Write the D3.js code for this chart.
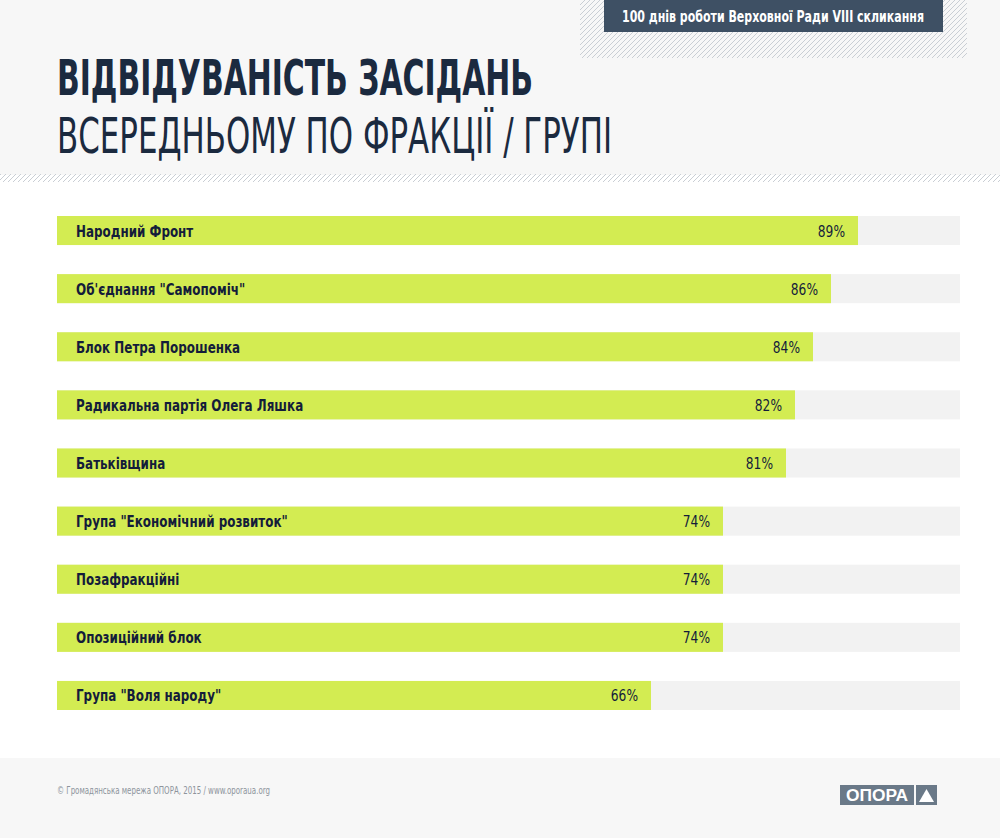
<!DOCTYPE html>
<html>
<head>
<meta charset="utf-8">
<script src="https://cdn.jsdelivr.net/npm/d3@7"></script>
<style>
  body { margin: 0; background: #fff; }
  svg { display: block; }
</style>
</head>
<body>
<svg id="chart" width="1000" height="838"></svg>
<script>
// data
var groups = ["Народний Фронт", "Об'єднання \"Самопоміч\"", "Блок Петра Порошенка",
    "Радикальна партія Олега Ляшка", "Батьківщина", "Група \"Економічний розвиток\"",
    "Позафракційні", "Опозиційний блок", "Група \"Воля народу\""];
var attendance = [89, 86, 84, 82, 81, 74, 74, 74, 66];
var domainMax = [0, 100];

var svg = d3.select("#chart"),
    width = +svg.attr("width"),
    height = +svg.attr("height");

var narrow = "'Liberation Sans Narrow', 'DejaVu Sans Condensed', sans-serif";

// hatch pattern
var defs = svg.append("defs");
var pat = defs.append("pattern")
    .attr("id", "hatch")
    .attr("patternUnits", "userSpaceOnUse")
    .attr("width", 5).attr("height", 5);
pat.append("path")
    .attr("d", "M-1,6 L6,-1 M-1,1 L1,-1 M4,6 L6,4")
    .attr("stroke", "#c9ced4")
    .attr("stroke-width", 1);

// header background
svg.append("rect").attr("x", 0).attr("y", 0).attr("width", width).attr("height", 175).attr("fill", "#f7f7f7");
svg.append("rect").attr("x", 0).attr("y", 174).attr("width", width).attr("height", 8).attr("fill", "url(#hatch)");

// badge top right
svg.append("rect").attr("x", 580).attr("y", 0).attr("width", 387).attr("height", 58).attr("fill", "url(#hatch)");
svg.append("rect").attr("x", 604).attr("y", 0).attr("width", 339).attr("height", 32).attr("fill", "#3e5064");
svg.append("text")
    .attr("x", 622).attr("y", 22)
    .attr("textLength", 302).attr("lengthAdjust", "spacingAndGlyphs")
    .style("font-family", narrow).style("font-weight", "bold").style("font-size", "15px")
    .attr("fill", "#fff")
    .text("100 днів роботи Верховної Ради VIII скликання");

// title
svg.append("text")
    .attr("x", 57).attr("y", 95)
    .attr("textLength", 476).attr("lengthAdjust", "spacingAndGlyphs")
    .style("font-family", narrow).style("font-weight", "bold").style("font-size", "50px")
    .attr("fill", "#1b2a3f")
    .text("ВІДВІДУВАНІСТЬ ЗАСІДАНЬ");
svg.append("text")
    .attr("x", 57).attr("y", 153)
    .attr("textLength", 555).attr("lengthAdjust", "spacingAndGlyphs")
    .style("font-family", narrow).style("font-weight", "normal").style("font-size", "50px")
    .attr("fill", "#1b2a3f")
    .text("ВСЕРЕДНЬОМУ ПО ФРАКЦІЇ / ГРУПІ");

// scales
var x = d3.scaleLinear().domain(domainMax).range([57, 957]);
var y = d3.scaleBand().domain(groups).range([216, 710]).paddingInner(0.5).paddingOuter(0);

var rows = svg.append("g").selectAll(".row")
    .data(groups)
    .enter().append("g")
    .attr("class", "row")
    .attr("transform", function (d) { return "translate(0," + y(d) + ")"; });

rows.append("rect")
    .attr("x", x(0))
    .attr("width", 960 - x(0))
    .attr("height", y.bandwidth())
    .attr("fill", "#f2f2f2");

rows.append("rect")
    .attr("x", x(0))
    .attr("width", function (d, i) { return x(attendance[i]) - x(0); })
    .attr("height", y.bandwidth())
    .attr("fill", "#d3ec52");

rows.append("text")
    .attr("transform", "translate(76," + (y.bandwidth() / 2 + 6) + ") scale(0.83,1)")
    .style("font-family", narrow).style("font-weight", "bold").style("font-size", "16px")
    .attr("fill", "#141c3a")
    .text(function (d) { return d; });

rows.append("text")
    .attr("transform", function (d, i) {
        return "translate(" + (x(attendance[i]) - 13) + "," + (y.bandwidth() / 2 + 6) + ") scale(0.85,1)";
    })
    .attr("text-anchor", "end")
    .style("font-family", narrow).style("font-weight", "500").style("font-size", "16px")
    .attr("fill", "#141c3a")
    .text(function (d, i) { return attendance[i] + "%"; });

// footer
svg.append("rect").attr("x", 0).attr("y", 758).attr("width", width).attr("height", 80).attr("fill", "#f7f7f7");
svg.append("text")
    .attr("x", 57).attr("y", 794)
    .attr("textLength", 213).attr("lengthAdjust", "spacingAndGlyphs")
    .style("font-family", narrow).style("font-size", "10px")
    .attr("fill", "#8d949c")
    .text("© Громадянська мережа ОПОРА, 2015 / www.oporaua.org");

svg.append("rect").attr("x", 840).attr("y", 785).attr("width", 74).attr("height", 20).attr("fill", "#6a7988");
svg.append("text")
    .attr("x", 877).attr("y", 801)
    .attr("text-anchor", "middle")
    .attr("textLength", 62).attr("lengthAdjust", "spacingAndGlyphs")
    .style("font-family", "'Liberation Sans', Arial, sans-serif").style("font-weight", "bold").style("font-size", "16px")
    .attr("fill", "#fff")
    .text("ОПОРА");
svg.append("rect").attr("x", 916).attr("y", 785).attr("width", 21).attr("height", 20).attr("fill", "#6a7988");
svg.append("path")
    .attr("d", "M926.5,789 L934,802 L919,802 Z")
    .attr("fill", "#fff");
</script>
</body>
</html>
